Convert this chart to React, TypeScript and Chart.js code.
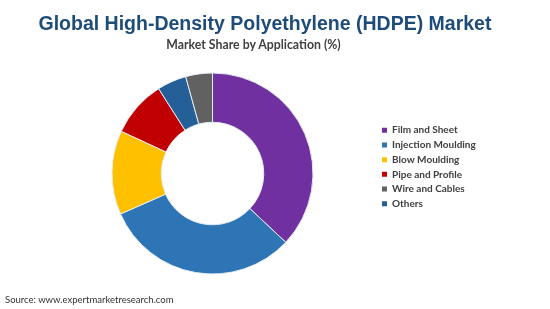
import React, { useEffect, useRef } from "react";
import { Chart, registerables } from "chart.js";

Chart.register(...registerables);

// ---- data ----
const categories = [
  "Film and Sheet",
  "Injection Moulding",
  "Blow Moulding",
  "Pipe and Profile",
  "Others",
  "Wire and Cables",
];
const shares = [37.0, 31.4, 13.5, 9.1, 4.7, 4.3];
const colors = ["#7030A0", "#2E75B6", "#FFC000", "#C00000", "#245F97", "#616161"];
const legendOrder = [
  "Film and Sheet",
  "Injection Moulding",
  "Blow Moulding",
  "Pipe and Profile",
  "Wire and Cables",
  "Others",
];
const titleText = "Global High-Density Polyethylene (HDPE) Market";
const subtitleText = "Market Share by Application (%)";
const sourceText = "Source: www.expertmarketresearch.com";

const W = 550;
const H = 309;
const legendFontSize = 10;
const legendBox = 5;
const legendPad = 4.7;
const legendBoxX = 382;
const centerX = 212.5;

export default function App() {
  const ref = useRef<HTMLCanvasElement | null>(null);

  useEffect(() => {
    const canvas = ref.current!;
    const c2d = canvas.getContext("2d")!;
    c2d.font = `bold ${legendFontSize}px Lato`;
    const maxText = Math.max(...categories.map((t) => c2d.measureText(t).width));
    const legendW = legendPad + legendBox + legendFontSize / 2 + maxText + 10;
    const legendLeft = legendBoxX - legendPad;
    const padLeft = 2 * centerX - legendLeft;
    const padRight = W - legendLeft - legendW;

    const baseGen = (Chart as any).overrides.doughnut.plugins.legend.labels.generateLabels;

    const chart = new Chart(canvas, {
      type: "doughnut",
      data: {
        labels: categories,
        datasets: [
          {
            data: shares,
            backgroundColor: colors,
            borderColor: "#e6ecf4",
            borderWidth: 1,
          },
        ],
      },
      options: {
        responsive: false,
        maintainAspectRatio: false,
        animation: false,
        cutout: "51%",
        layout: { padding: { left: padLeft, right: padRight, top: 59.5, bottom: 34.5 } },
        plugins: {
          title: { display: true, text: "", font: { size: 13, lineHeight: 1 }, padding: 0 },
          tooltip: { enabled: false },
          legend: {
            position: "right",
            align: "center",
            labels: {
              boxWidth: legendBox,
              boxHeight: legendBox,
              padding: legendPad,
              color: "#404040",
              font: { family: "Lato", size: legendFontSize, weight: "bold" },
              sort: (a: any, b: any) => legendOrder.indexOf(a.text) - legendOrder.indexOf(b.text),
              generateLabels: (ch: any) =>
                baseGen(ch).map((l: any) => ({ ...l, lineWidth: 0, strokeStyle: "rgba(0,0,0,0)" })),
            },
          },
        },
      },
    } as any);
    return () => chart.destroy();
  }, []);

  return (
    <div
      style={{
        position: "fixed",
        left: 0,
        top: 0,
        width: W,
        height: H,
        background: "#ffffff",
        overflow: "hidden",
      }}
    >
      <canvas
        ref={ref}
        width={W}
        height={H}
        style={{ position: "absolute", left: 0, top: 0, width: W, height: H, display: "block" }}
      />
      <div
        style={{
          position: "absolute",
          left: 0,
          top: 11.5,
          width: 530,
          textAlign: "center",
          fontFamily: "'Liberation Sans', Arial, sans-serif",
          fontWeight: "bold",
          fontSize: 19.5,
          lineHeight: "22px",
          color: "#1D4C78",
          whiteSpace: "nowrap",
        }}
      >
        {titleText}
      </div>
      <div
        style={{
          position: "absolute",
          left: 0,
          top: 37.5,
          width: 507,
          textAlign: "center",
          fontFamily: "Lato, sans-serif",
          fontWeight: "bold",
          fontSize: 12.3,
          lineHeight: "14.8px",
          color: "#404040",
          whiteSpace: "nowrap",
        }}
      >
        {subtitleText}
      </div>
      <div
        style={{
          position: "absolute",
          left: 5,
          top: 294,
          fontFamily: "Lato, sans-serif",
          fontSize: 9.5,
          lineHeight: "11.4px",
          color: "#333333",
          whiteSpace: "nowrap",
        }}
      >
        {sourceText}
      </div>
    </div>
  );
}
